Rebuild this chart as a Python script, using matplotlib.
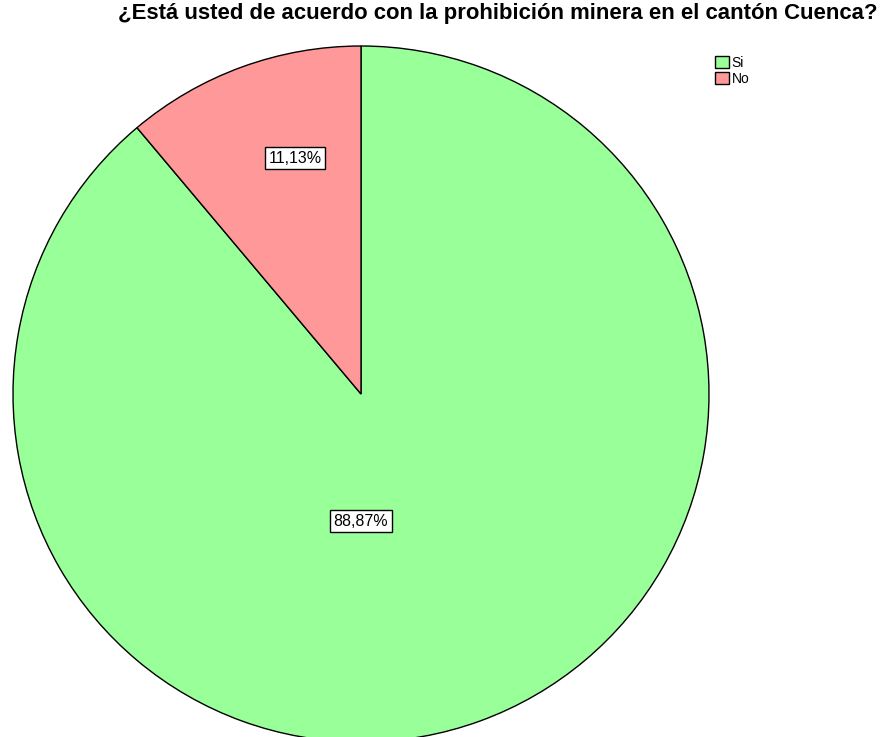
import matplotlib
matplotlib.use("Agg")
import matplotlib.pyplot as plt

labels = ["Si", "No"]
values = [88.87, 11.13]
pct_text = ["88,87%", "11,13%"]
colors = ["#99ff99", "#ff9999"]

plt.rcParams['font.family'] = ['Liberation Sans', 'DejaVu Sans']

fig = plt.figure(figsize=(8.9, 7.37), dpi=100)
ax = fig.add_axes([0, 0, 1, 1])

wedges, _ = ax.pie(values, colors=colors, startangle=90, counterclock=False,
                   center=(361, 343), radius=348,
                   wedgeprops=dict(edgecolor='black', linewidth=1.0))

# pie() resets the limits, so set pixel-like limits afterwards
ax.set_xlim(0, 890)
ax.set_ylim(0, 737)
ax.set_aspect('equal')
ax.axis('off')

# label positions (SPSS style placement)
label_pos = [(361, 216), (295, 579)]
for (x, y), t in zip(label_pos, pct_text):
    ax.text(x, y, t, ha='center', va='center', fontsize=11.5,
            bbox=dict(boxstyle='square,pad=0.2', facecolor='white',
                      edgecolor='black', linewidth=1.0))

fig.text(498 / 890, 1 - 13 / 737,
         "¿Está usted de acuerdo con la prohibición minera en el cantón Cuenca?",
         ha='center', va='center', fontsize=15.9, fontweight='bold')

leg = ax.legend(wedges, labels, loc='upper left',
                bbox_to_anchor=(708 / 890, 1 - 49 / 737),
                bbox_transform=fig.transFigure, frameon=False,
                fontsize=10, handlelength=1.0, handleheight=1.0,
                handletextpad=0.2, labelspacing=0.15, borderpad=0.0)

fig.savefig("out.png", dpi=100)
